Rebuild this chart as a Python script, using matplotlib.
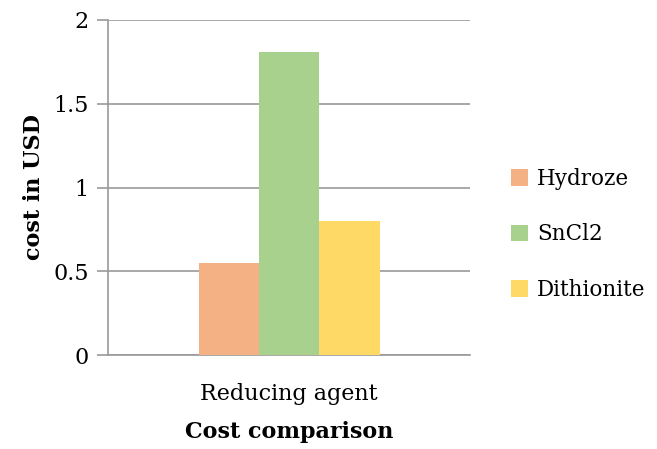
import matplotlib.pyplot as plt

# Cost data
category = ["Reducing agent"]
agents = ["Hydroze", "SnCl2", "Dithionite"]
costs = [0.55, 1.81, 0.80]
colors = ["#F4B183", "#A9D18E", "#FFD966"]

plt.rcParams['font.family'] = ['DejaVu Serif']

fig = plt.figure(figsize=(6.57, 4.49), dpi=100)
ax = fig.add_axes([108/657, 1 - 355/449, 362/657, 335/449])

w = 1/6
offsets = [-w, 0, w]
for name, val, c, off in zip(agents, costs, colors, offsets):
    ax.bar(0 + off, val, width=w, color=c, label=name, zorder=3)

ax.set_xlim(-0.5, 0.5)
ax.set_ylim(0, 2)
ax.set_yticks([0, 0.5, 1, 1.5, 2])
ax.set_yticklabels(["0", "0.5", "1", "1.5", "2"])
ax.set_xticks([0])
ax.set_xticklabels(category)

ax.grid(axis='y', color='#999999', linewidth=1.2, zorder=0)
for s in ['top', 'right']:
    ax.spines[s].set_visible(False)
ax.spines['left'].set_color('#999999')
ax.spines['bottom'].set_color('#999999')
ax.spines['left'].set_linewidth(1.2)
ax.spines['bottom'].set_linewidth(1.2)
ax.tick_params(axis='y', length=8, width=1.2, color='#999999', labelsize=16, pad=6)
ax.tick_params(axis='x', length=0, labelsize=16, pad=20)

ax.set_ylabel("cost in USD", fontsize=16, fontweight='bold', labelpad=6)
ax.set_xlabel("Cost comparison", fontsize=16, fontweight='bold', labelpad=12)

ax.legend(loc='center left', bbox_to_anchor=(1.06, 0.36), frameon=False,
          fontsize=15.5, handlelength=0.8, handleheight=0.8,
          labelspacing=1.55, handletextpad=0.4)

fig.savefig("out.png", dpi=100)
